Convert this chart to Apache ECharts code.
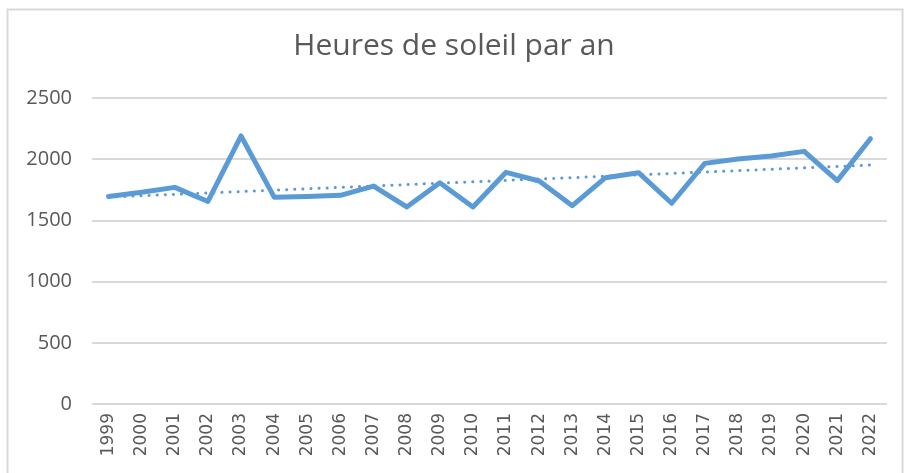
<!DOCTYPE html>
<html>
<head>
<meta charset="utf-8">
<script src="https://cdn.jsdelivr.net/npm/echarts@6/dist/echarts.min.js"></script>
<style>
  html, body { margin: 0; padding: 0; background: #fff; }
  #chart { width: 908px; height: 473px; }
</style>
</head>
<body>
<div id="chart"></div>
<script>
// années et heures de soleil
var years = ['1999', '2000', '2001', '2002', '2003', '2004', '2005', '2006', '2007', '2008', '2009', '2010',
    '2011', '2012', '2013', '2014', '2015', '2016', '2017', '2018', '2019', '2020', '2021', '2022'];
var heures = [1695, 1730, 1770, 1655, 2190, 1690, 1695, 1705, 1780, 1610, 1808, 1610,
    1893, 1822, 1620, 1849, 1890, 1640, 1966, 2001, 2026, 2064, 1825, 2167];
// tendance linéaire : valeurs de début et de fin
var trendStart = 1690;
var trendEnd = 1952;
var yTicks = [0, 500, 1000, 1500, 2000, 2500];

var trend = years.map(function (y, i) {
    if (i === 0) return trendStart;
    if (i === years.length - 1) return trendEnd;
    return null;
});

var myChart = echarts.init(document.getElementById('chart'));
var option = {
    animation: false,
    graphic: [{
        type: 'rect',
        shape: { x: 7.5, y: 9.5, width: 895, height: 480 },
        style: { fill: 'none', stroke: '#d9d9d9', lineWidth: 2 }
    }],
    title: {
        text: 'Heures de soleil par an',
        left: 'center',
        top: 26,
        textStyle: {
            fontFamily: 'Open Sans',
            fontWeight: 'normal',
            fontSize: 30,
            color: '#595959'
        }
    },
    grid: {
        left: 92,
        right: 21,
        top: 98,
        bottom: 69
    },
    xAxis: {
        type: 'category',
        data: years,
        boundaryGap: true,
        axisLine: { show: false },
        axisTick: { show: false },
        axisLabel: {
            rotate: 90,
            margin: 9,
            fontFamily: 'DejaVu Sans',
            fontSize: 17,
            color: '#595959'
        }
    },
    yAxis: {
        type: 'value',
        min: yTicks[0],
        max: yTicks[yTicks.length - 1],
        interval: 500,
        axisLine: { show: false },
        axisTick: { show: false },
        axisLabel: {
            margin: 20,
            fontFamily: 'Open Sans',
            fontSize: 20,
            color: '#595959',
            formatter: function (v) { return String(v); }
        },
        splitLine: { lineStyle: { color: '#d9d9d9', width: 2 } }
    },
    series: [{
        name: 'Heures',
        type: 'line',
        data: heures,
        symbol: 'none',
        lineStyle: { color: '#5b9bd5', width: 5, cap: 'round', join: 'round' }
    }, {
        name: 'Tendance',
        type: 'line',
        data: trend,
        connectNulls: true,
        symbol: 'none',
        lineStyle: { color: '#5b9bd5', width: 3, type: [0.1, 8], cap: 'round' }
    }]
};
myChart.setOption(option);
</script>
</body>
</html>
